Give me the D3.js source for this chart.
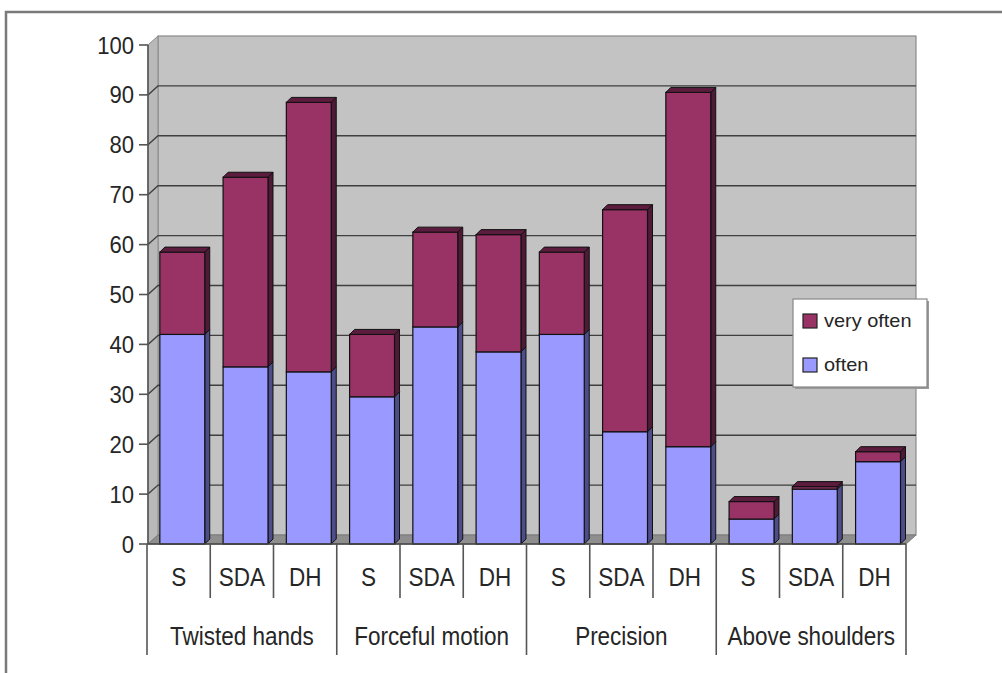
<!DOCTYPE html>
<html>
<head>
<meta charset="utf-8">
<script src="https://cdn.jsdelivr.net/npm/d3@7"></script>
<style>
  body { margin: 0; background: #fff; }
  svg { display: block; }
  text { font-family: "Liberation Sans", Arial, sans-serif; fill: #262626; }
</style>
</head>
<body>
<svg id="chart" width="1002" height="673"></svg>
<script>
// Task groups and the three populations within each group
const groups = ["Twisted hands", "Forceful motion", "Precision", "Above shoulders"];
const subgroups = ["S", "SDA", "DH"];

// Percent of respondents, in group order (S, SDA, DH per group)
const often     = [42, 35.5, 34.5, 29.5, 43.5, 38.5, 42, 22.5, 19.5, 5, 11, 16.5];
const veryOften = [16.5, 38, 54, 12.5, 19, 23.5, 16.5, 44.5, 71, 3.5, 0.5, 2];

const yTicks = [0, 10, 20, 30, 40, 50, 60, 70, 80, 90, 100];
const legendLabels = ["very often", "often"];

// Colours
const faceColor = { often: "#9999ff", veryOften: "#993366" };
const sideColor = { often: "#4d4d8a", veryOften: "#4e1a36" };
const topColor  = { often: "#5a5aa0", veryOften: "#5c1c3e" };

const rows = [];
groups.forEach((g, gi) => subgroups.forEach((s, si) => {
  const i = gi * subgroups.length + si;
  rows.push({ idx: i, group: g, sub: s, often: often[i], veryOften: veryOften[i] });
}));

const svg = d3.select("#chart");

// Plot geometry
const frontLeft = 148, frontRight = 906;
const wallDx = 10, wallDy = -9;      // depth offset of the back wall
const barDx = 5, barDy = -5;         // depth offset of each column

const y = d3.scaleLinear().domain([0, 100]).range([544, 45]);

// Category slots (for axis dividers and labels)
const slot = d3.scaleBand().domain(d3.range(rows.length)).range([147, 906]).padding(0);
// Column positions inside the slots
const x = d3.scaleBand().domain(d3.range(rows.length)).range([147, 906])
  .paddingInner(0.29).paddingOuter(0.145).align(0.7);

// Outer chart frame
svg.append("path")
  .attr("d", "M6,673 V12 H1002")
  .attr("fill", "none").attr("stroke", "#7a7a7a").attr("stroke-width", 2.5);

const yTop = y(100), yBot = y(0);

// Back wall
svg.append("rect")
  .attr("x", frontLeft + wallDx).attr("y", yTop + wallDy)
  .attr("width", frontRight - frontLeft).attr("height", yBot - yTop)
  .attr("fill", "#c3c3c3").attr("stroke", "#8a8a8a").attr("stroke-width", 1.2);

// Side wall
svg.append("polygon")
  .attr("points", [[frontLeft, yTop], [frontLeft + wallDx, yTop + wallDy],
                   [frontLeft + wallDx, yBot + wallDy], [frontLeft, yBot]].join(" "))
  .attr("fill", "#b9b9b9").attr("stroke", "#8a8a8a").attr("stroke-width", 1);

// Floor
svg.append("polygon")
  .attr("points", [[frontLeft, yBot], [frontRight, yBot],
                   [frontRight + wallDx, yBot + wallDy], [frontLeft + wallDx, yBot + wallDy]].join(" "))
  .attr("fill", "#8e8e8e").attr("stroke", "#7a7a7a").attr("stroke-width", 1);

// Gridlines across the side wall and back wall
svg.append("g").selectAll("path")
  .data(yTicks.filter(v => v > 0 && v < 100))
  .join("path")
  .attr("d", v => `M${frontLeft},${y(v)} L${frontLeft + wallDx},${y(v) + wallDy} H${frontRight + wallDx}`)
  .attr("fill", "none").attr("stroke", "#3f3f3f").attr("stroke-width", 1.4);

// Stacked 3-D columns
const stack = d3.stack().keys(["often", "veryOften"]);
const series = stack(rows);
const barsG = svg.append("g");
rows.forEach((r, i) => {
  const bx = x(i), bw = x.bandwidth();
  const g = barsG.append("g");
  const segs = series.map(s => ({ key: s.key, y0: s[i][0], y1: s[i][1] }))
    .filter(d => d.y1 > d.y0);
  segs.forEach((d, k) => {
    const yt = y(d.y1), yb = y(d.y0);
    // right side
    g.append("polygon")
      .attr("points", [[bx + bw, yt], [bx + bw + barDx, yt + barDy],
                       [bx + bw + barDx, yb + barDy], [bx + bw, yb]].join(" "))
      .attr("fill", sideColor[d.key]).attr("stroke", "#111").attr("stroke-width", 1);
    // front face
    g.append("rect")
      .attr("x", bx).attr("y", yt).attr("width", bw).attr("height", yb - yt)
      .attr("fill", faceColor[d.key]).attr("stroke", "#111").attr("stroke-width", 1.2);
    // top face on the highest segment
    if (k === segs.length - 1) {
      g.append("polygon")
        .attr("points", [[bx, yt], [bx + barDx, yt + barDy],
                         [bx + bw + barDx, yt + barDy], [bx + bw, yt]].join(" "))
        .attr("fill", topColor[d.key]).attr("stroke", "#111").attr("stroke-width", 1);
    }
  });
});

// Value axis
const axisG = svg.append("g");
axisG.append("line")
  .attr("x1", frontLeft).attr("x2", frontLeft).attr("y1", yTop).attr("y2", yBot)
  .attr("stroke", "#555").attr("stroke-width", 1.6);
axisG.selectAll("line.tick").data(yTicks).join("line").attr("class", "tick")
  .attr("x1", frontLeft - 9).attr("x2", frontLeft).attr("y1", v => y(v)).attr("y2", v => y(v))
  .attr("stroke", "#555").attr("stroke-width", 1.6);
axisG.selectAll("text").data(yTicks).join("text")
  .attr("transform", v => `translate(134,${y(v) + 8.5}) scale(0.92,1)`)
  .attr("text-anchor", "end").attr("font-size", 24)
  .text(v => v);

// Category axis line and dividers
svg.append("line")
  .attr("x1", frontLeft).attr("x2", frontRight).attr("y1", yBot).attr("y2", yBot)
  .attr("stroke", "#444").attr("stroke-width", 1.6);
const bounds = d3.range(rows.length + 1);
svg.append("g").selectAll("line").data(bounds).join("line")
  .attr("x1", b => b < rows.length ? slot(b) : 906)
  .attr("x2", b => b < rows.length ? slot(b) : 906)
  .attr("y1", yBot)
  .attr("y2", b => b % subgroups.length === 0 ? 655 : 598)
  .attr("stroke", "#555").attr("stroke-width", 1.6);

// Subgroup labels
svg.append("g").selectAll("text").data(rows).join("text")
  .attr("transform", (r, i) => `translate(${slot(i) + slot.bandwidth() / 2},586) scale(0.9,1)`)
  .attr("text-anchor", "middle").attr("font-size", 25)
  .text(r => r.sub);

// Group labels
svg.append("g").selectAll("text").data(groups).join("text")
  .attr("transform", (g, gi) => {
    const cx = slot(gi * 3) + slot.bandwidth() * 1.5;
    return `translate(${cx},645) scale(0.9,1)`;
  })
  .attr("text-anchor", "middle").attr("font-size", 25)
  .text(g => g);

// Legend
const lg = svg.append("g");
lg.append("rect").attr("x", 795).attr("y", 301).attr("width", 134).attr("height", 88)
  .attr("fill", "#9a9a9a");
lg.append("rect").attr("x", 793).attr("y", 299).attr("width", 134).attr("height", 88)
  .attr("fill", "#fff").attr("stroke", "#888").attr("stroke-width", 1.2);
const legendKeys = ["veryOften", "often"];
legendKeys.forEach((k, i) => {
  const ly = 314 + i * 44;
  lg.append("rect").attr("x", 803).attr("y", ly).attr("width", 14).attr("height", 14)
    .attr("fill", faceColor[k]).attr("stroke", "#222").attr("stroke-width", 1.2);
  lg.append("text")
    .attr("transform", `translate(824,${ly + 13}) scale(1.05,1)`)
    .attr("font-size", 19)
    .text(legendLabels[i]);
});
</script>
</body>
</html>
